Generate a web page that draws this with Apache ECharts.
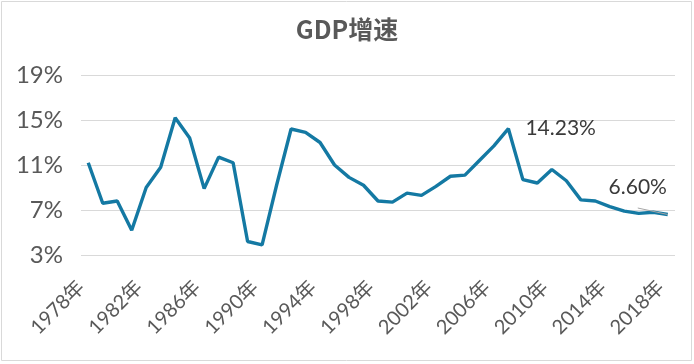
<!DOCTYPE html>
<html>
<head>
<meta charset="utf-8">
<script src="https://cdn.jsdelivr.net/npm/echarts@6/dist/echarts.min.js"></script>
<style>
html,body{margin:0;padding:0;background:#fff;}
#c{width:694px;height:364px;}
</style>
</head>
<body>
<div id="c"></div>
<script>
var title = 'GDP增速';
var years = ['1978','1979','1980','1981','1982','1983','1984','1985','1986','1987',
  '1988','1989','1990','1991','1992','1993','1994','1995','1996','1997',
  '1998','1999','2000','2001','2002','2003','2004','2005','2006','2007',
  '2008','2009','2010','2011','2012','2013','2014','2015','2016','2017','2018'];
var gdpGrowth = [11.2,7.6,7.8,5.2,9.0,10.8,15.2,13.4,8.9,11.7,
  11.2,4.2,3.9,9.2,14.2,13.9,13.0,11.0,9.9,9.2,
  7.8,7.7,8.5,8.3,9.1,10.0,10.1,11.4,12.7,14.23,
  9.7,9.4,10.6,9.6,7.9,7.8,7.3,6.9,6.7,6.8,6.6];
var labeledYears = ['2007','2018'];
var yTicks = [3,7,11,15,19];

var chart = echarts.init(document.getElementById('c'), null, {renderer:'canvas'});
var seriesData = gdpGrowth.map(function(v, i){
  var item = {value: v};
  var k = labeledYears.indexOf(years[i]);
  if (k === 0) {
    item.label = {show:true, position:'right', distance:17};
    item.labelLine = {show:false};
  } else if (k === 1) {
    item.label = {show:true, position:'top', distance:5, offset:[-30,-12]};
    item.labelLine = {show:true, lineStyle:{color:'#a6a6a6', width:1}};
  }
  return item;
});
chart.setOption({
  animation:false,
  title:{text:title, left:'center', top:12,
    textStyle:{fontFamily:"'Noto Sans CJK SC', sans-serif", fontSize:25, fontWeight:'bold', color:'#595959'}},
  graphic:[{type:'rect', shape:{x:1.5,y:1.5,width:690,height:359},
    style:{fill:'none', stroke:'#d9d9d9', lineWidth:1}, silent:true}],
  grid:{left:81, right:19, top:75, bottom:109, containLabel:false},
  xAxis:{type:'category', data:years.map(function(y){return y+'年';}), boundaryGap:true,
    axisLine:{show:false}, axisTick:{show:false},
    axisLabel:{interval:3, rotate:45, margin:36, verticalAlign:'bottom', fontSize:20, color:'#595959',
      fontFamily:"Lato, 'Noto Sans CJK SC', sans-serif"}},
  yAxis:{type:'value', min:yTicks[0], max:yTicks[yTicks.length-1], interval:4,
    axisLine:{show:false}, axisTick:{show:false},
    splitLine:{lineStyle:{color:'#d9d9d9', width:1}},
    axisLabel:{formatter:'{value}%', margin:18, fontSize:24, color:'#595959',
      fontFamily:"Lato, sans-serif"}},
  series:[{type:'line', data:seriesData, symbol:'circle', symbolSize:0, showSymbol:true,
    lineStyle:{color:'#1479a3', width:3.4}, itemStyle:{color:'#1479a3'},
    label:{show:false, formatter:function(p){return p.value.toFixed(2)+'%';},
      fontSize:21, color:'#3a3a3a', fontFamily:"Lato, sans-serif"},
    labelLine:{show:false}}]
});
</script>
</body>
</html>
